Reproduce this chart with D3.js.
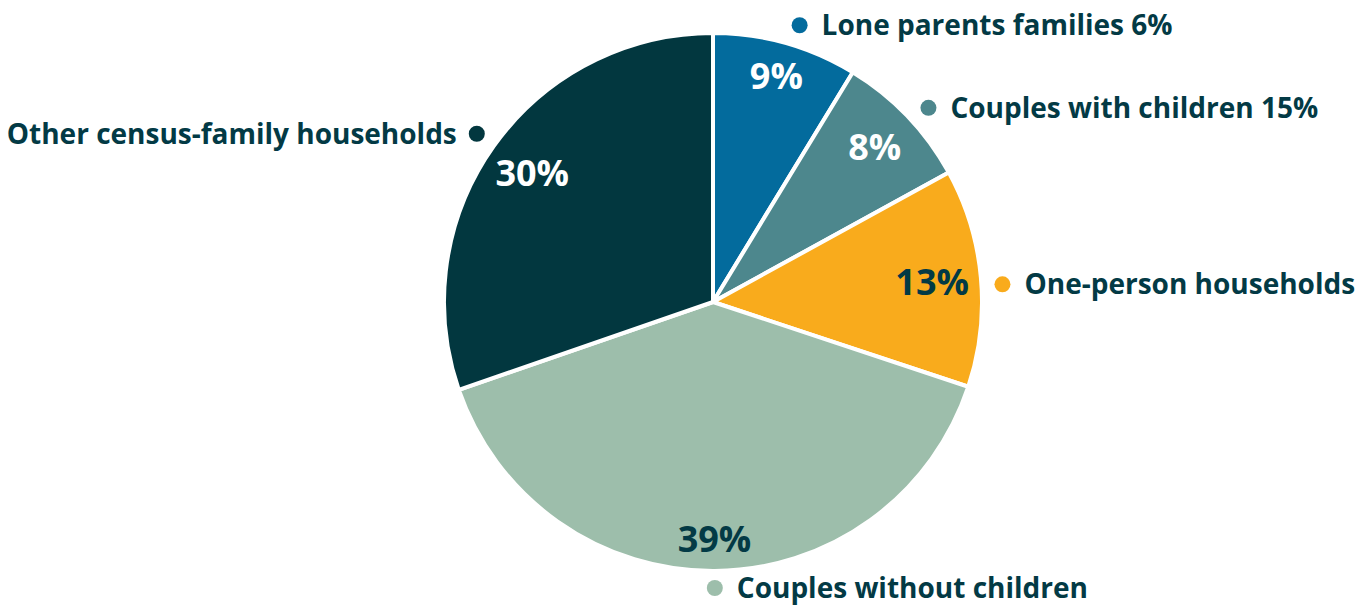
<!DOCTYPE html>
<html>
<head>
<meta charset="utf-8">
<script src="https://cdn.jsdelivr.net/npm/d3@7"></script>
<style>
  body { margin: 0; background: #fff; }
  text { font-family: "Segoe UI", "Open Sans", "Noto Sans", sans-serif; font-weight: 700; }
</style>
</head>
<body>
<svg id="canvas"></svg>
<script>
// household types, clockwise from 12 o'clock
let categories = ['Lone parents families 6%', 'Couples with children 15%', 'One-person households', 'Couples without children', 'Other census-family households']
let shares = [8.7, 8.3, 13.1, 39.6, 30.3]      // slice sizes
let pctLabels = ['9%', '8%', '13%', '39%', '30%']
let colors = ['#036b9d', '#4d878d', '#f9ab1c', '#9dbeab', '#02373f']
let pctColors = ['#ffffff', '#ffffff', '#033a45', '#033a45', '#ffffff']

let width = 1371
let height = 608
let cx = 713
let cy = 302
let radius = 269
let textColor = '#033a45'

let svg = d3.select('#canvas')
            .attr('width', width)
            .attr('height', height)

let data = categories.map((c, i) => ({name: c, value: shares[i], pct: pctLabels[i], color: colors[i], pctColor: pctColors[i]}))

let pie = d3.pie()
            .sort(null)
            .value(d => d.value)

let arc = d3.arc().innerRadius(0).outerRadius(radius)

let g = svg.append('g').attr('transform', `translate(${cx},${cy})`)

let arcs = pie(data)

let midAngle = d => (d.startAngle + d.endAngle) / 2

// point at distance r along an angle (0 = 12 o'clock, clockwise)
let polar = (a, r) => [Math.sin(a) * r, -Math.cos(a) * r]

g.selectAll('path')
  .data(arcs)
  .enter()
  .append('path')
  .attr('d', arc)
  .style('fill', d => d.data.color)
  .style('stroke', '#fff')
  .style('stroke-width', 4)
  .style('stroke-linejoin', 'round')

// percentages inside the slices (sit a bit deeper near the top and bottom)
g.selectAll('.pct')
  .data(arcs)
  .enter()
  .append('text')
  .attr('class', 'pct')
  .attr('transform', d => {
    let a = midAngle(d)
    let r = 220 + 17 * Math.pow(Math.abs(Math.cos(a)), 4)
    return `translate(${polar(a, r)})`
  })
  .attr('text-anchor', 'middle')
  .attr('dy', '0.35em')
  .style('font-size', '36px')
  .style('fill', d => d.data.pctColor)
  .text(d => d.data.pct)

// outside labels with coloured dots
let labelPos = d => {
  let a = midAngle(d)
  let p = polar(a < Math.PI * 0.9 ? a + 0.03 : a, 290)
  p[1] = Math.min(p[1], height - cy - 20)   // keep the bottom label inside
  return p
}

let labels = g.selectAll('.lbl')
  .data(arcs)
  .enter()
  .append('g')
  .attr('class', 'lbl')
  .attr('transform', d => `translate(${labelPos(d)})`)

labels.append('circle')
  .attr('r', 8)
  .style('fill', d => d.data.color)

labels.append('text')
  .attr('x', d => midAngle(d) > Math.PI * 1.05 ? -20 : 22)
  .attr('text-anchor', d => midAngle(d) > Math.PI * 1.05 ? 'end' : 'start')
  .attr('dy', '0.35em')
  .style('font-size', '28px')
  .style('fill', textColor)
  .text(d => d.data.name)
</script>
</body>
</html>
